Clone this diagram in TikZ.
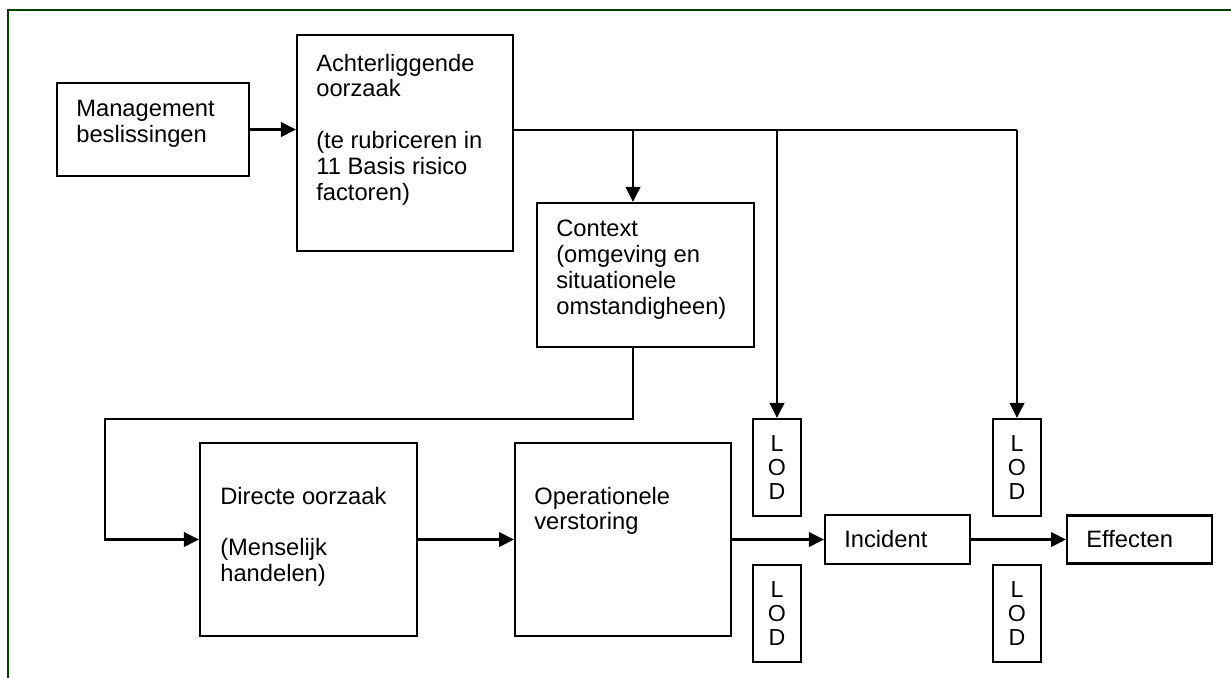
\documentclass[tikz,border=0pt]{standalone}
\usepackage{fontspec}
\setmainfont{Liberation Sans}
\usetikzlibrary{arrows.meta, positioning, calc}
\definecolor{framegreen}{RGB}{0,64,0}

\begin{document}
\begin{tikzpicture}[x=0.02cm, y=-0.02cm,
    box/.style={rectangle, draw, line width=1.2pt, inner sep=0pt},
    txt/.style={anchor=north west, inner sep=0pt, align=left, font=\fontsize{13.5}{14.74}\selectfont},
    lod/.style={box, minimum width=0.96cm, minimum height=1.94cm, align=center, font=\fontsize{13.2}{13.9}\selectfont},
    wire/.style={line width=1.2pt},
    flow/.style={wire, -{Triangle[length=0.3cm, width=0.29cm]}}]

    % page size and frame (right and bottom edge fall outside)
    \useasboundingbox (0,0) rectangle (1231,677);
    \draw[framegreen, line width=1.2pt] (7.7,690) -- (7.7,10) -- (1245,10);

    % upper row
    \node[box, minimum width=3.84cm, minimum height=1.86cm] (mgmt) at (153,129.5) {};
    \node[txt] (mgmttxt) at ([xshift=0.40cm, yshift=-0.35cm]mgmt.north west) {Management\\beslissingen};

    \node[box, minimum width=4.32cm, minimum height=4.32cm] (cause) at (405,143) {};
    \node[txt] (causetxt) at ([xshift=0.40cm, yshift=-0.39cm]cause.north west)
        {Achterliggende\\oorzaak\\[0.52cm](te rubriceren in\\11 Basis risico\\factoren)};

    \node[box, minimum width=4.34cm, minimum height=2.88cm] (context) at (645.5,275) {};
    \node[txt] (contexttxt) at ([xshift=0.40cm, yshift=-0.36cm]context.north west)
        {Context\\(omgeving en\\situationele\\omstandigheen)};

    % lower row
    \node[box, minimum width=4.34cm, minimum height=3.86cm] (direct) at (308.5,539.5) {};
    \node[txt] (directtxt) at ([xshift=0.42cm, yshift=-0.89cm]direct.north west)
        {Directe oorzaak\\[0.52cm](Menselijk\\handelen)};

    \node[box, minimum width=4.32cm, minimum height=3.86cm, right=1.92cm of direct] (oper) {};
    \node[txt] (opertxt) at ([xshift=0.40cm, yshift=-0.89cm]oper.north west) {Operationele\\verstoring};

    \node[box, minimum width=2.9cm, minimum height=0.98cm] (incident) at (897.5,539.5) {};
    \node[txt, anchor=west] (incidenttxt) at ([xshift=0.40cm]incident.west) {Incident};

    \node[box, minimum width=2.9cm, minimum height=0.96cm, right=1.9cm of incident] (effects) {};
    \node[txt, anchor=west] (effectstxt) at ([xshift=0.40cm]effects.west) {Effecten};

    % lines of defence
    \node[lod] (lod1) at (777,467.5) {L\\O\\D};
    \node[lod, below=0.94cm of lod1] (lod2) {L\\O\\D};
    \node[lod] (lod3) at (1017,467.5) {L\\O\\D};
    \node[lod, below=0.94cm of lod3] (lod4) {L\\O\\D};

    % connections
    \draw[flow] (mgmt.east) -- (mgmt.east -| cause.west);

    \coordinate (busstart) at ([yshift=0.26cm]cause.east);
    \coordinate (busend) at (busstart -| lod3.north);
    \coordinate (ctxtap) at (633,130);
    \coordinate (lodtap) at (busstart -| lod1.north);
    \draw[wire] (busstart) -- (busend);
    \draw[flow] (busend) -- (lod3.north);
    \draw[flow] (ctxtap) -- (ctxtap |- context.north);
    \draw[flow] (lodtap) -- (lod1.north);

    \coordinate (ctxout) at (ctxtap |- context.south);
    \coordinate (loopcorner) at (105,419);
    \draw[flow] (ctxout) |- (loopcorner) |- (direct.west);

    \draw[flow] (direct) -- (oper);
    \draw[flow] (oper) -- (incident);
    \draw[flow] (incident.east) -- (incident.east -| effects.west);
\end{tikzpicture}
\end{document}
